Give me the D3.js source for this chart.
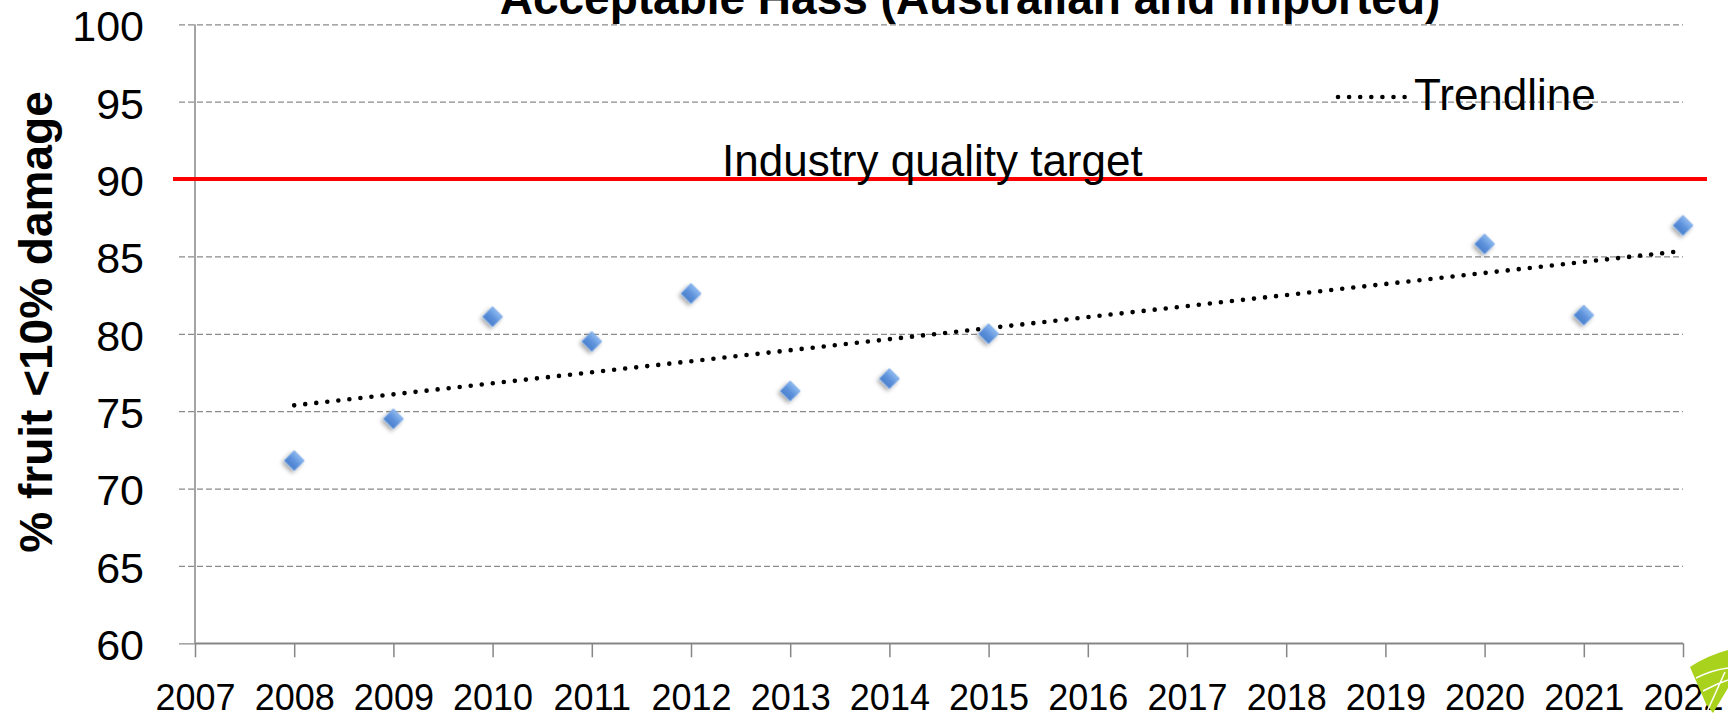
<!DOCTYPE html>
<html>
<head>
<meta charset="utf-8">
<script src="https://cdn.jsdelivr.net/npm/d3@7"></script>
<style>
  body { margin: 0; background: #fff; }
  svg { display: block; font-family: "Liberation Sans", Arial, sans-serif; }
</style>
</head>
<body>
<svg id="chart"></svg>
<script>
// data
var years = [2008, 2009, 2010, 2011, 2012, 2013, 2014, 2015, 2020, 2021, 2022];
var acceptable = [71.8, 74.5, 81.1, 79.5, 82.6, 76.3, 77.1, 80.0, 85.8, 81.2, 87.0];
var xTicks = [2007, 2008, 2009, 2010, 2011, 2012, 2013, 2014, 2015, 2016, 2017, 2018, 2019, 2020, 2021, 2022];
var yTicks = [60, 65, 70, 75, 80, 85, 90, 95, 100];
var targetValue = 90;
var titleText = "Acceptable Hass (Australian and Imported)";
var yTitle = "% fruit <10% damage";
var targetLabel = "Industry quality target";
var trendLabel = "Trendline";

var W = 1728, H = 718;
var svg = d3.select("#chart").attr("width", W).attr("height", H);

var x = d3.scaleLinear().domain([2007, 2022]).range([195, 1683]);
var y = d3.scaleLinear().domain([60, 100]).range([643.3, 24.3]);

var defs = svg.append("defs");
var grad = defs.append("linearGradient").attr("id", "dia")
	.attr("x1", 0).attr("y1", 0).attr("x2", 0).attr("y2", 1);
grad.append("stop").attr("offset", "0%").attr("stop-color", "#8db9ef");
grad.append("stop").attr("offset", "50%").attr("stop-color", "#5f93dc");
grad.append("stop").attr("offset", "100%").attr("stop-color", "#4a7fcc");
var shadow = defs.append("filter").attr("id", "shadow")
	.attr("x", "-50%").attr("y", "-50%").attr("width", "200%").attr("height", "200%");
shadow.append("feDropShadow").attr("dx", 0).attr("dy", 3).attr("stdDeviation", 2)
	.attr("flood-color", "#000").attr("flood-opacity", 0.35);

// horizontal gridlines (dashed) with the left ticks
var yAxis = svg.append("g")
	.attr("transform", "translate(179,0)")
	.call(d3.axisLeft(y).tickValues(yTicks).tickSize(-(1683 - 179)).tickPadding(35));
yAxis.select(".domain").remove();
yAxis.selectAll(".tick line")
	.attr("stroke", "#8a8a8a")
	.attr("stroke-width", 1.2)
	.attr("stroke-dasharray", function(d) { return d == 60 ? null : "6,3"; });
yAxis.selectAll(".tick text")
	.attr("font-size", 43).attr("dy", "0.38em").attr("fill", "#000");

// y axis line
svg.append("line")
	.attr("x1", x(2007)).attr("x2", x(2007))
	.attr("y1", y(100)).attr("y2", y(60))
	.attr("stroke", "#868686").attr("stroke-width", 1.5);

// x axis
var xAxis = svg.append("g")
	.attr("transform", "translate(0," + y(60) + ")")
	.call(d3.axisBottom(x).tickValues(xTicks).tickSize(14).tickPadding(27).tickFormat(d3.format("d")));
xAxis.select(".domain").attr("stroke", "#868686").attr("stroke-width", 1.5)
	.attr("d", "M" + x(2007) + ",0H" + x(2022));
xAxis.selectAll(".tick line").attr("stroke", "#868686").attr("stroke-width", 1.5);
xAxis.selectAll(".tick text").attr("font-size", 36).attr("fill", "#000");

// industry target line
svg.append("line")
	.attr("x1", 173).attr("x2", 1707)
	.attr("y1", y(targetValue)).attr("y2", y(targetValue))
	.attr("stroke", "#ff0000").attr("stroke-width", 4);
svg.append("text")
	.attr("x", 722).attr("y", y(targetValue) - 3)
	.attr("font-size", 44)
	.text(targetLabel);

// linear trendline (least squares on the points)
var mx = d3.mean(years), my = d3.mean(acceptable);
var sxy = d3.sum(years, function(d, i) { return (d - mx) * (acceptable[i] - my); });
var sxx = d3.sum(years, function(d) { return (d - mx) * (d - mx); });
var slope = sxy / sxx, icpt = my - slope * mx;
var trendEnds = [d3.min(years), d3.max(years)];
svg.append("path")
	.datum(trendEnds)
	.attr("d", d3.line().x(function(d) { return x(d); }).y(function(d) { return y(icpt + slope * d); }))
	.attr("fill", "none").attr("stroke", "#000")
	.attr("stroke-width", 4.6).attr("stroke-linecap", "round")
	.attr("stroke-dasharray", "0,11.1");

// points
var sym = d3.symbol().type(d3.symbolSquare).size(200);
svg.append("g").selectAll("path")
	.data(years)
	.enter().append("path")
	.attr("d", sym)
	.attr("transform", function(d, i) { return "translate(" + x(d) + "," + y(acceptable[i]) + ") rotate(45)"; })
	.attr("fill", "url(#dia)")
	.attr("stroke", "#7eaae6").attr("stroke-width", 0.8)
	.attr("filter", "url(#shadow)");

// legend
svg.append("line")
	.attr("x1", 1338).attr("x2", 1406).attr("y1", 97).attr("y2", 97)
	.attr("stroke", "#000").attr("stroke-width", 4.6)
	.attr("stroke-linecap", "round").attr("stroke-dasharray", "0,11.1");
svg.append("text")
	.attr("x", 1414).attr("y", 110)
	.attr("font-size", 44)
	.text(trendLabel);

// title (clipped at top, as in the source)
svg.append("text")
	.attr("x", 970).attr("y", 14)
	.attr("text-anchor", "middle")
	.attr("font-size", 46).attr("font-weight", "bold")
	.text(titleText);

// y axis title
svg.append("text")
	.attr("transform", "translate(52,322) rotate(-90)")
	.attr("text-anchor", "middle")
	.attr("font-size", 46).attr("font-weight", "bold")
	.text(yTitle);

// corner logo leaf
var leaf = svg.append("g");
leaf.append("path")
	.attr("d", "M1690,667 Q1706,656 1728,650 L1728,688 L1713,713 L1706,704 Z")
	.attr("fill", "#a9d21c");
leaf.append("path")
	.attr("d", "M1696,678 Q1712,670 1728,668 M1703,691 Q1716,684 1728,680 M1706,714 L1725,672")
	.attr("fill", "none").attr("stroke", "#fff").attr("stroke-width", 1.5);
</script>
</body>
</html>
